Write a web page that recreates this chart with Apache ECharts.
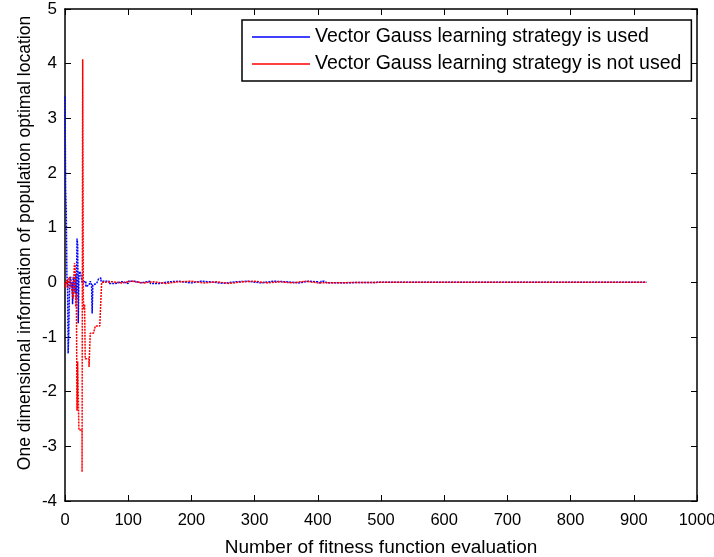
<!DOCTYPE html>
<html>
<head>
<meta charset="utf-8">
<script src="https://cdn.jsdelivr.net/npm/echarts@6/dist/echarts.min.js"></script>
<style>
  html, body { margin: 0; padding: 0; background: #fff; }
  #chart { width: 714px; height: 557px; }
</style>
</head>
<body>
<div id="chart"></div>
<script>
// Evaluation counts and optimal-location values, step by step
const usedX = [0, 1, 2, 3, 4, 5, 6, 7, 8, 9, 10, 11, 12, 13, 14, 16, 17, 18, 19, 20, 21, 22, 23, 25, 27,
  30, 33, 35, 38, 40, 42, 43, 44, 46, 50, 53, 55, 57, 60, 70, 80, 90, 100, 110, 120, 135, 150, 165,
  180, 200, 215, 230, 250, 270, 290, 310, 330, 350, 370, 385, 400, 405, 410, 415, 500, 600, 700, 800, 920];
const usedY = [3.4, 1.7, 1.3, 0.1, 0.05, -1.3, -0.9, -0.2, 0.05, 0.1, -0.1, 0.0, -0.4, 0.1, 0.05, -0.2, 0.15, -0.3, 0.8, 0.7,
  -0.75, 0.1, 0.2, 0.15, 0.0, 0.02, -0.08, -0.05, -0.03, 0.02, -0.05, -0.57, -0.05, -0.02, -0.05, 0.06, 0.08, 0.02, 0.02,
  -0.02, 0.01, -0.02, 0.02, -0.01, 0.02, -0.02, 0.01, 0.02, -0.01, 0.02, 0.01, -0.02, 0.01, 0.02, -0.01, 0.02, 0.01,
  -0.01, 0.02, 0.01, -0.02, 0.02, -0.01, 0.0, 0.0, 0.0, 0.0, 0.0, 0.0];

const notUsedX = [0, 1, 2, 3, 4, 5, 6, 7, 9, 10, 11, 13, 14, 15, 16, 17, 18, 19, 20, 21, 22, 25, 27, 28, 29,
  30, 31, 32, 35, 38, 40, 45, 48, 55, 58, 60, 75, 90, 105, 125, 140, 160, 180, 200, 220, 240, 260, 280,
  300, 320, 340, 360, 380, 400, 500, 600, 700, 800, 920];
const notUsedY = [0, -0.1, -0.1, 0.05, 0.05, -0.1, 0.05, 0.1, 0.1, -0.05, -0.15, -0.3, 0.05, 0.35, 0.3, -0.45, -0.2, -2.35,
  -1.45, -1.45, -2.7, -2.7, -3.47, 4.08, -0.3, -0.5, -0.4, -1.4, -1.4, -1.55, -0.93, -0.93, -0.8, -0.8, 0, 0.01, -0.01,
  0.02, -0.01, 0.01, -0.02, 0.01, 0.02, -0.01, 0.01, -0.02, 0.01, 0.02, -0.01, 0.01, -0.01, 0.02, -0.01, 0.0, 0.0, 0.0,
  0.0, 0.0, 0.0];

const xTicks = [0, 100, 200, 300, 400, 500, 600, 700, 800, 900, 1000];
const yTicks = [-4, -3, -2, -1, 0, 1, 2, 3, 4, 5];

const seriesNames = ['Vector Gauss learning strategy is used', 'Vector Gauss learning strategy is not used'];

const pairs = (xs, ys) => xs.map((x, i) => [x, ys[i]]);

const font = 'Arial, "Liberation Sans", sans-serif';
const chart = echarts.init(document.getElementById('chart'), null, { renderer: 'canvas' });

const frameAxis = {
  axisLine: { show: true, onZero: false, lineStyle: { color: '#000', width: 1.5 } },
  axisTick: { show: true, inside: true, length: 6, lineStyle: { color: '#000', width: 1 } },
  splitLine: { show: false }
};

chart.setOption({
  animation: false,
  backgroundColor: '#fff',
  grid: { left: 65, top: 9, right: 17, bottom: 56, outerBoundsMode: 'none', containLabel: false },
  legend: {
    orient: 'vertical',
    left: 242,
    top: 20,
    padding: [7, 10, 7, 10],
    icon: 'rect',
    itemWidth: 58,
    itemHeight: 1.5,
    itemGap: 7,
    backgroundColor: '#fff',
    borderColor: '#000',
    borderWidth: 1.5,
    borderRadius: 0,
    textStyle: { fontFamily: font, fontSize: 19.5, color: '#000' },
    data: seriesNames
  },
  xAxis: [{
    type: 'value', min: xTicks[0], max: xTicks[xTicks.length - 1], interval: 100,
    ...frameAxis,
    axisLabel: { color: '#000', fontFamily: font, fontSize: 16.5, margin: 11, formatter: v => String(v) },
    name: 'Number of fitness function evaluation',
    nameLocation: 'middle', nameGap: 37, nameMoveOverlap: false,
    nameTextStyle: { color: '#000', fontFamily: font, fontSize: 19 }
  }, {
    type: 'value', position: 'top', min: xTicks[0], max: xTicks[xTicks.length - 1], interval: 100,
    ...frameAxis, axisLabel: { show: false }
  }],
  yAxis: [{
    type: 'value', min: yTicks[0], max: yTicks[yTicks.length - 1], interval: 1,
    ...frameAxis,
    axisLabel: { color: '#000', fontFamily: font, fontSize: 17, margin: 8, formatter: v => String(v) },
    name: 'One dimensional information of population optimal location',
    nameLocation: 'middle', nameGap: 31, nameMoveOverlap: false,
    nameTextStyle: { color: '#000', fontFamily: font, fontSize: 17.5, padding: [0, 0, 0, 24] }
  }, {
    type: 'value', position: 'right', min: yTicks[0], max: yTicks[yTicks.length - 1], interval: 1,
    ...frameAxis, axisLabel: { show: false }
  }],
  series: [{
    name: seriesNames[0], type: 'line', symbol: 'none', step: 'end',
    lineStyle: { color: '#0000ff', width: 1.5, type: [2, 1] },
    itemStyle: { color: '#0000ff' },
    data: pairs(usedX, usedY)
  }, {
    name: seriesNames[1], type: 'line', symbol: 'none', step: 'end',
    lineStyle: { color: '#ff0000', width: 1.5, type: [2, 1] },
    itemStyle: { color: '#ff0000' },
    data: pairs(notUsedX, notUsedY)
  }]
});
</script>
</body>
</html>
